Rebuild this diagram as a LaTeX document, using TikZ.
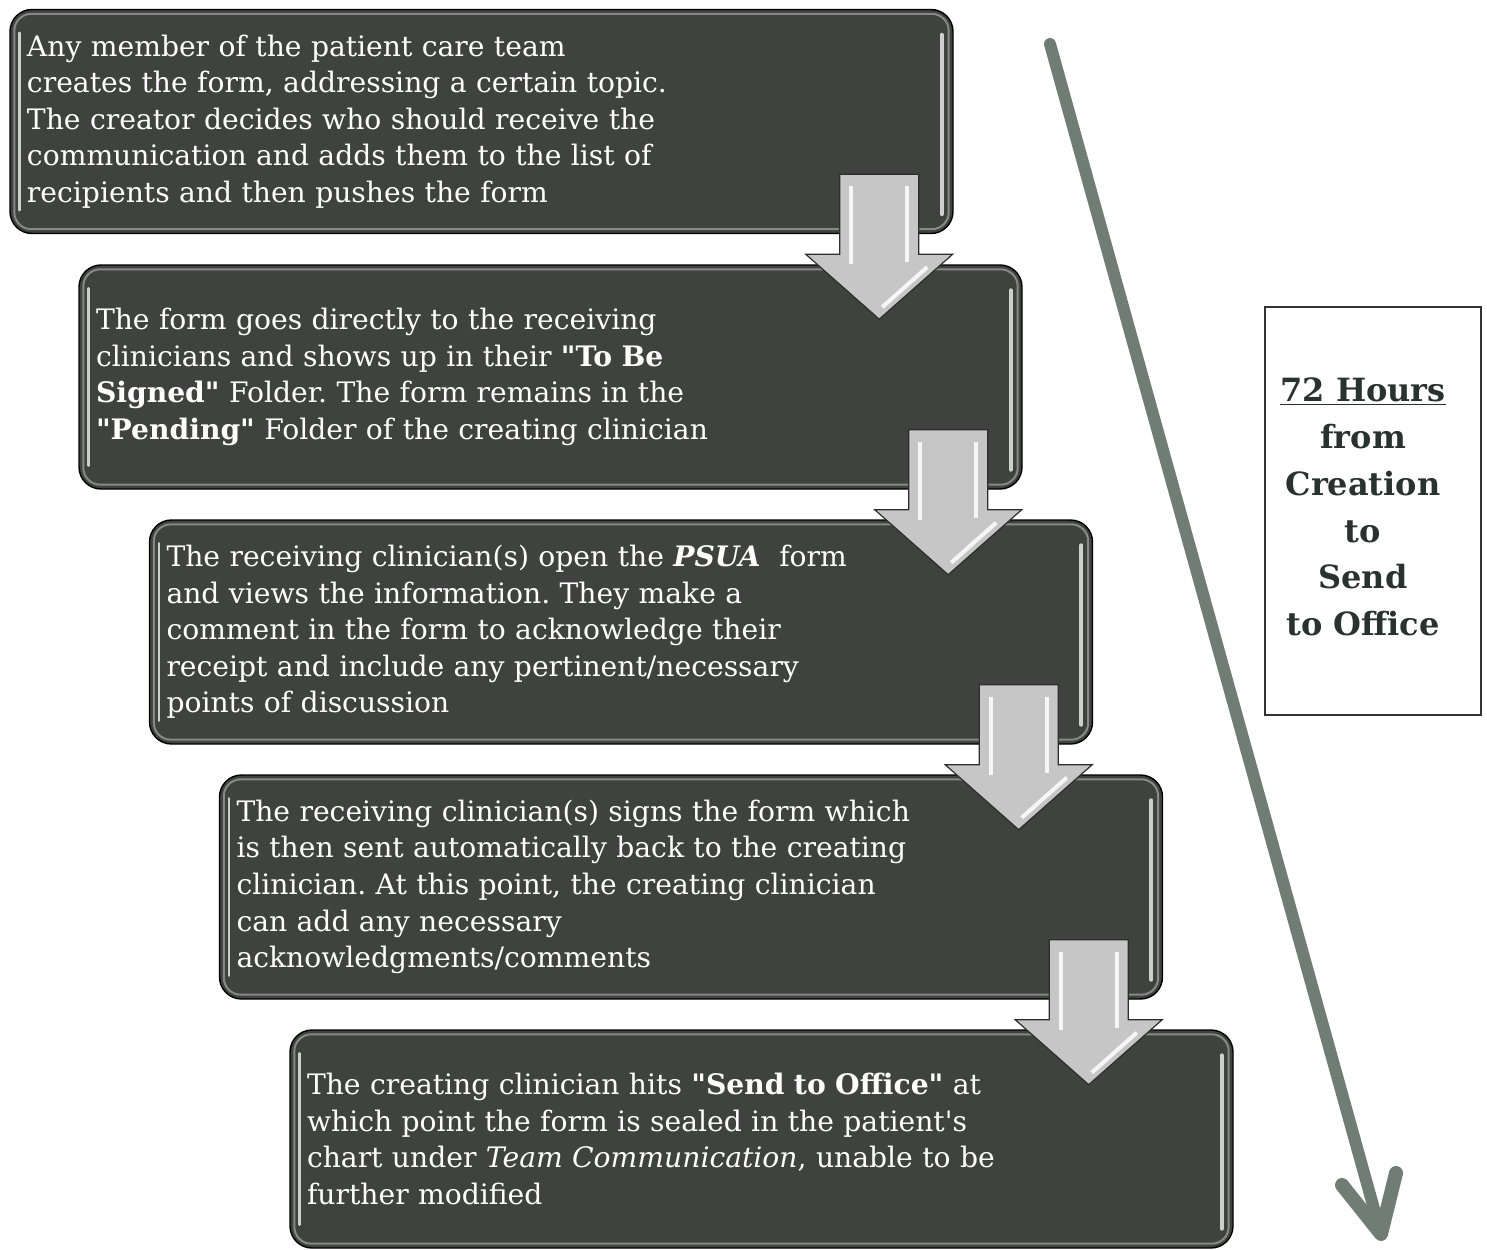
\documentclass[tikz,border=0pt]{standalone}
\usepackage{fontspec}
\setmainfont{DejaVu Serif}[Ligatures=TeXOff]
\usetikzlibrary{calc}
\definecolor{boxgray}{RGB}{64,66,64}
\definecolor{rimgray}{RGB}{135,137,135}
\definecolor{arrowgray}{RGB}{198,198,198}
\definecolor{arrowedge}{RGB}{45,45,45}
\definecolor{bigarrow}{RGB}{112,124,118}
\definecolor{txtdark}{RGB}{40,50,46}
\newcommand{\boxfont}{\fontsize{28.2}{36.6}\selectfont}
\newcommand{\sidefont}{\fontsize{32}{46.7}\selectfont\bfseries}
\frenchspacing
\begin{document}
\begin{tikzpicture}[x=1pt,y=-1pt,
 stepbox/.style={draw=black, line width=1.4pt, fill=boxgray, rounded corners=22pt,
   minimum width=943pt, minimum height=224pt, text width=909pt, align=left,
   inner sep=0pt, text=white, font=\boxfont},
 rim/.style={draw=rimgray, line width=2pt, rounded corners=17pt},
 gloss/.style={draw=white, line width=3pt, line cap=round, opacity=0.75},
 downarrow/.style={fill=arrowgray, draw=arrowedge, line width=1.2pt, line join=miter},
 bevel/.style={draw=white, line width=4pt, opacity=0.85},
 bigline/.style={draw=bigarrow, line width=12pt, line cap=round, line join=round},
 sidebox/.style={draw=black!80, line width=1.5pt, minimum width=216pt, minimum height=408pt, inner sep=0pt},
 sidetext/.style={align=center, text=txtdark, font=\sidefont, inner sep=0pt}
]
\useasboundingbox (0,0) rectangle (1487,1249);

% big timeline arrow
\coordinate (ts) at (1050,44);
\coordinate (tip) at (1381,1234);
\coordinate (al) at (1342,1185);
\coordinate (ar) at (1396,1173);
\draw[bigline] (ts) -- (tip);
\draw[bigline, line width=14pt] (al) -- (tip) -- (ar);

% step boxes
\node[stepbox] (b1) at (481.5,121.5) {Any member of the patient care team\\
creates the form, addressing a certain topic.\\
The creator decides who should receive the\\
communication and adds them to the list of\\
recipients and then pushes the form};
\node[stepbox] (b2) at (550.5,377) {The form goes directly to the receiving\\
clinicians and shows up in their \textbf{"To Be}\\
\textbf{Signed"} Folder. The form remains in the\\
\textbf{"Pending"} Folder of the creating clinician};
\node[stepbox] (b3) at (621,632) {The receiving clinician(s) open the \textbf{\textit{PSUA}}\ \ form\\
and views the information. They make a\\
comment in the form to acknowledge their\\
receipt and include any pertinent/necessary\\
points of discussion};
\node[stepbox] (b4) at (691,887) {The receiving clinician(s) signs the form which\\
is then sent automatically back to the creating\\
clinician. At this point, the creating clinician\\
can add any necessary\\
acknowledgments/comments};
\node[stepbox, minimum height=218pt] (b5) at (761.5,1139) {The creating clinician hits \textbf{"Send to Office"} at\\
which point the form is sealed in the patient's\\
chart under \textit{Team Communication}, unable to be\\
further modified};

\foreach \b in {b1,b2,b3,b4,b5}{
  \draw[rim] ($(\b.north west)+(5,5)$) rectangle ($(\b.south east)+(-5,-5)$);
  \draw[gloss, line width=2.5pt] ($(\b.north west)+(10,24)$) -- ($(\b.south west)+(10,-24)$);
  \draw[gloss, line width=4pt] ($(\b.north east)+(-12,26)$) -- ($(\b.south east)+(-12,-20)$);
}

% down arrows between boxes
\foreach \i in {1,2,3,4}{
  \coordinate (a\i) at ($(b\i.south east)+(-74.5,0)$);
  \begin{scope}[shift={(a\i)}]
    \draw[downarrow] (-39.5,-60) -- (39.5,-60) -- (39.5,20) -- (73.5,20) -- (0,85)
      -- (-73.5,20) -- (-39.5,20) -- cycle;
    \draw[bevel] (-28,-48) -- (-28,30);
    \draw[bevel] (28,-48) -- (28,28);
    \draw[bevel] (48,33) -- (3,73);
  \end{scope}
}

% time box
\node[sidebox] (tb) at (1373,511) {};
\node[sidetext] (tx) at (1363,507) {\underline{72 Hours}\\from\\Creation\\to\\Send\\to Office};
\end{tikzpicture}
\end{document}
